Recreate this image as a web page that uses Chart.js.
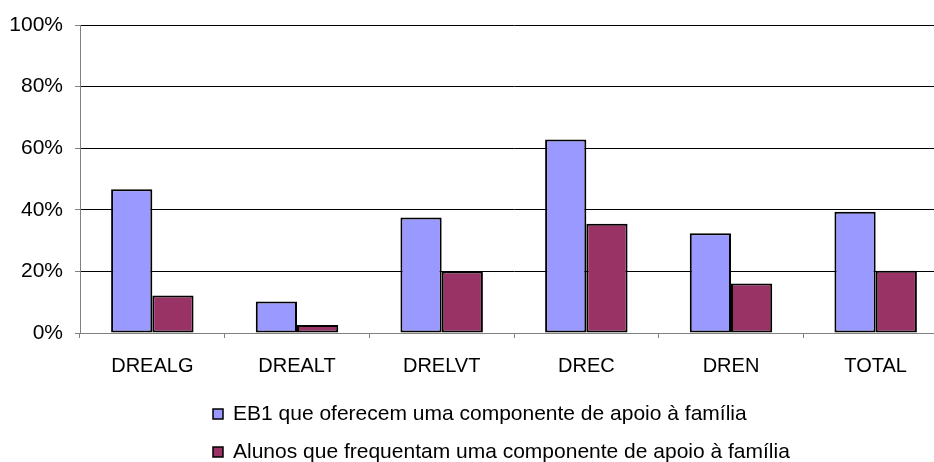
<!DOCTYPE html>
<html>
<head>
<meta charset="utf-8">
<script src="https://cdn.jsdelivr.net/npm/chart.js@4"></script>
<style>
  html, body { margin: 0; padding: 0; background: #fff; overflow: hidden; }
  #wrap { width: 934px; height: 462px; overflow: hidden; }
</style>
</head>
<body>
<div id="wrap"><canvas id="chart" width="960" height="462"></canvas></div>
<script>
const categories = ['DREALG', 'DREALT', 'DRELVT', 'DREC', 'DREN', 'TOTAL'];
const seriesNames = [
  'EB1 que oferecem uma componente de apoio à família',
  'Alunos que frequentam uma componente de apoio à família'
];
const escolasValues = [46.7, 10.2, 37.5, 62.8, 32.4, 39.4];
const alunosValues = [12.2, 2.6, 20.0, 35.5, 16.1, 20.2];
const yTicks = [0, 20, 40, 60, 80, 100];

const FONT = 'Liberation Sans, Arial, sans-serif';

// legenda desenhada à mão (duas linhas alinhadas à esquerda)
const legendPlugin = {
  id: 'leftLegend',
  afterDraw(chart) {
    const ctx = chart.ctx;
    ctx.save();
    ctx.font = '21px ' + FONT;
    ctx.textBaseline = 'middle';
    chart.data.datasets.forEach((ds, i) => {
      const y = 414 + i * 38;
      ctx.fillStyle = ds.backgroundColor;
      ctx.fillRect(213, y - 5, 10, 10);
      ctx.strokeStyle = '#000';
      ctx.lineWidth = 1.5;
      ctx.strokeRect(213, y - 5, 10, 10);
      ctx.fillStyle = '#000';
      ctx.fillText(ds.label, 233, y);
    });
    ctx.restore();
  }
};

new Chart(document.getElementById('chart'), {
  type: 'bar',
  data: {
    labels: categories,
    datasets: [
      {
        label: seriesNames[0],
        data: escolasValues,
        backgroundColor: '#9999FF',
        borderColor: '#000',
        borderWidth: 2,
        borderSkipped: false,
        categoryPercentage: 0.57,
        barPercentage: 1.0,
      },
      {
        label: seriesNames[1],
        data: alunosValues,
        backgroundColor: '#993366',
        borderColor: '#000',
        borderWidth: 2,
        borderSkipped: false,
        categoryPercentage: 0.57,
        barPercentage: 1.0,
      }
    ]
  },
  options: {
    responsive: false,
    animation: false,
    layout: { padding: { top: 25, right: 12, bottom: 0, left: 0 } },
    plugins: {
      legend: { display: false },
      tooltip: { enabled: false },
    },
    scales: {
      x: {
        afterFit: (scale) => { scale.height = 129; },
        grid: {
          offset: true,
          drawOnChartArea: false,
          tickLength: 5,
          color: '#808080',
        },
        border: { display: true, color: '#808080', width: 1 },
        ticks: {
          color: '#000',
          font: { family: FONT, size: 20 },
          padding: 16,
        },
      },
      y: {
        min: 0,
        max: 100,
        afterFit: (scale) => { scale.width = 80; },
        afterBuildTicks: (scale) => { scale.ticks = yTicks.map(v => ({ value: v })); },
        grid: {
          color: (c) => c.tick && c.tick.value === 0 ? '#808080' : '#000',
          tickLength: 5,
          tickColor: '#808080',
        },
        border: { display: true, color: '#808080', width: 1 },
        ticks: {
          color: '#000',
          font: { family: FONT, size: 21 },
          padding: 12,
          callback: (v) => v + '%',
        },
      }
    }
  },
  plugins: [legendPlugin]
});
</script>
</body>
</html>
